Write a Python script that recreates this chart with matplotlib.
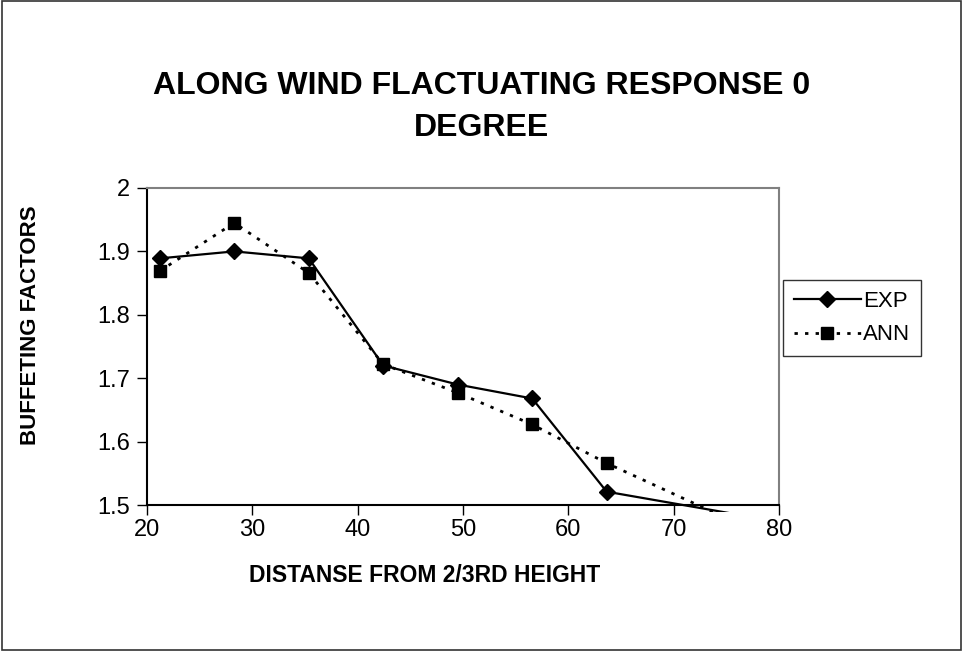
import matplotlib
matplotlib.use("Agg")
import matplotlib.pyplot as plt
import matplotlib.patches as patches

# distance from 2/3rd height vs buffeting factor
distance = [21.21, 28.28, 35.36, 42.43, 49.50, 56.57, 63.64, 77.78]
exp_vals = [1.889, 1.900, 1.889, 1.720, 1.690, 1.668, 1.521, 1.480]
ann_vals = [1.869, 1.945, 1.866, 1.722, 1.677, 1.627, 1.566, 1.458]
xticks = [20, 30, 40, 50, 60, 70, 80]
yticks = [1.5, 1.6, 1.7, 1.8, 1.9, 2.0]
ytick_labels = ["1.5", "1.6", "1.7", "1.8", "1.9", "2"]

font = ["Liberation Sans", "DejaVu Sans"]

fig = plt.figure(figsize=(9.63, 6.51), dpi=100)
ax = fig.add_axes([147 / 963, 1 - 505 / 651, 632 / 963, 317 / 651])

# lines run a little past the bottom of the plot area, markers only where inside
ext = patches.Rectangle((0, -0.022), 1, 1.022, transform=ax.transAxes)
shown = list(range(7))

l1, = ax.plot(distance, exp_vals, color="black", lw=1.6, marker="D", ms=8.5,
              markevery=shown, label="EXP")
l2, = ax.plot(distance, ann_vals, color="black", lw=2, linestyle=(0, (1.2, 2.6)),
              marker="s", ms=8, markevery=shown, label="ANN")
l1.set_clip_path(ext)
l2.set_clip_path(ext)

ax.set_xlim(20, 80)
ax.set_ylim(1.5, 2.0)
ax.set_xticks(xticks)
ax.set_xticklabels([str(t) for t in xticks], family=font, fontsize=17)
ax.set_yticks(yticks)
ax.set_yticklabels(ytick_labels, family=font, fontsize=17)
ax.tick_params(direction="out", length=7, width=1)
ax.tick_params(axis="x", pad=3)
ax.tick_params(axis="y", pad=5)

ax.spines["top"].set_color("#808080")
ax.spines["right"].set_color("#808080")
for s in ax.spines.values():
    s.set_linewidth(1.5)

fig.text(425 / 963, 1 - 576 / 651, "DISTANSE FROM 2/3RD HEIGHT", family=font,
         fontsize=16.5, fontweight="bold", ha="center", va="center")
fig.text(30 / 963, 1 - 325 / 651, "BUFFETING FACTORS", family=font, fontsize=16,
         fontweight="bold", rotation=90, ha="center", va="center")

fig.text(0.5, 1 - 107 / 651, "ALONG WIND FLACTUATING RESPONSE 0\nDEGREE",
         family=font, fontsize=23, fontweight="bold", ha="center", va="center",
         linespacing=1.5)

leg = fig.legend(handles=[l1, l2], loc="upper left",
                 bbox_to_anchor=(783 / 963, 1 - 280 / 651),
                 prop={"family": font, "size": 16}, frameon=True, fancybox=False,
                 handlelength=3.0, handletextpad=0.1, borderpad=0.5,
                 labelspacing=0.55, borderaxespad=0)
leg.get_frame().set_edgecolor("black")
leg.get_frame().set_linewidth(1)

fig.patches.append(patches.Rectangle((0.002, 0.002), 0.996, 0.996, transform=fig.transFigure,
                                     fill=False, edgecolor="#333333", lw=1.2))

fig.savefig("out.png", dpi=100)
